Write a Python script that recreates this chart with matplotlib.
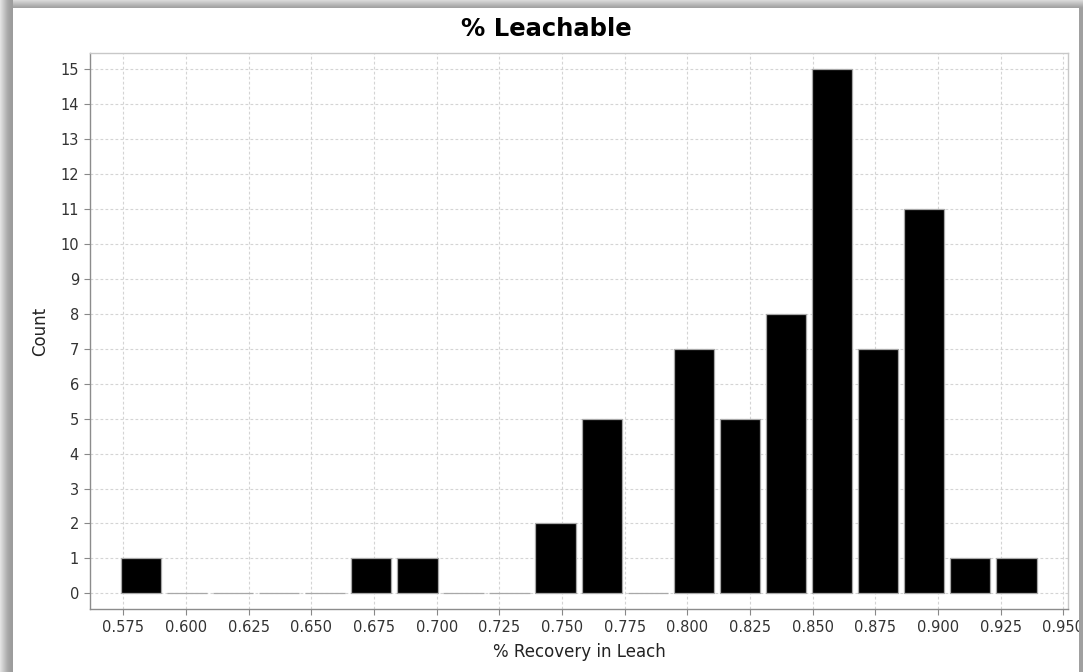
import numpy as np
import matplotlib
matplotlib.use('Agg')
import matplotlib.pyplot as plt
from matplotlib.patches import Rectangle

# histogram of % recovery in leach, 20 bins
bin_lo = 0.5728
bin_hi = 0.9405
counts = [1, 0, 0, 0, 0, 1, 1, 0, 0, 2, 5, 0, 7, 5, 8, 15, 7, 11, 1, 1]
x_ticks = [0.575, 0.600, 0.625, 0.650, 0.675, 0.700, 0.725, 0.750, 0.775,
           0.800, 0.825, 0.850, 0.875, 0.900, 0.925, 0.950]
y_ticks = list(range(0, 16))

edges = np.linspace(bin_lo, bin_hi, len(counts) + 1)
centers = (edges[:-1] + edges[1:]) / 2
bw = edges[1] - edges[0]

plt.rcParams['font.family'] = 'DejaVu Sans'

fig = plt.figure(figsize=(10.83, 6.72), dpi=100)
W, H = 1083, 672
ax = fig.add_axes([90 / W, 1 - 609 / H, (1068 - 90) / W, (609 - 53) / H])

ax.bar(centers, counts, width=bw * 0.875, color='black',
       edgecolor='#a8a8a8', linewidth=0.9, zorder=3)

ax.set_xlim(0.5617, 0.9519)
ax.set_ylim(-0.45, 15.47)
ax.set_xticks(x_ticks)
ax.set_xticklabels([f'{t:.3f}' for t in x_ticks])
ax.set_yticks(y_ticks)
ax.tick_params(axis='both', labelsize=10.5, labelcolor='#333333', color='#888888',
               length=4, width=0.8, pad=4)
ax.grid(True, color='#d4d4d4', linestyle=(0, (2.5, 2)), linewidth=0.8, zorder=0)
ax.set_axisbelow(True)

for s in ['left', 'bottom']:
    ax.spines[s].set_color('#8c8c8c')
    ax.spines[s].set_linewidth(1.0)
for s in ['top', 'right']:
    ax.spines[s].set_color('#c8c8c8')
    ax.spines[s].set_linewidth(1.0)

ax.set_xlabel('% Recovery in Leach', fontsize=12, color='#222222', labelpad=6)
ax.set_ylabel('Count', fontsize=12, color='#222222', labelpad=8)
fig.text(546 / W, 1 - 29 / H, '% Leachable', ha='center', va='center',
         fontsize=17.5, fontweight='bold')

# grey window frame
greys = ['#e2e2e2', '#dadada', '#d2d2d2', '#cacaca', '#c2c2c2', '#bababa', '#b2b2b2',
         '#ababab', '#a6a6a6', '#a2a2a2', '#9f9f9f', '#9d9d9d', '#9c9c9c']
for i, g in enumerate(greys):
    fig.add_artist(Rectangle((i / W, 0), 1 / W, 1, transform=fig.transFigure,
                             color=g, zorder=10, lw=0))
tops = ['#d8d8d8', '#d0d0d0', '#c8c8c8', '#c0c0c0', '#b8b8b8', '#b0b0b0', '#a8a8a8', '#a2a2a2']
for i, g in enumerate(tops):
    fig.add_artist(Rectangle((13 / W, 1 - (i + 1) / H), 1, 1 / H, transform=fig.transFigure,
                             color=g, zorder=10, lw=0))
fig.add_artist(Rectangle((1079 / W, 0), 4 / W, 1 - 8 / H, transform=fig.transFigure,
                         color='#a0a0a0', zorder=10, lw=0))

fig.savefig('out.png', dpi=100)
